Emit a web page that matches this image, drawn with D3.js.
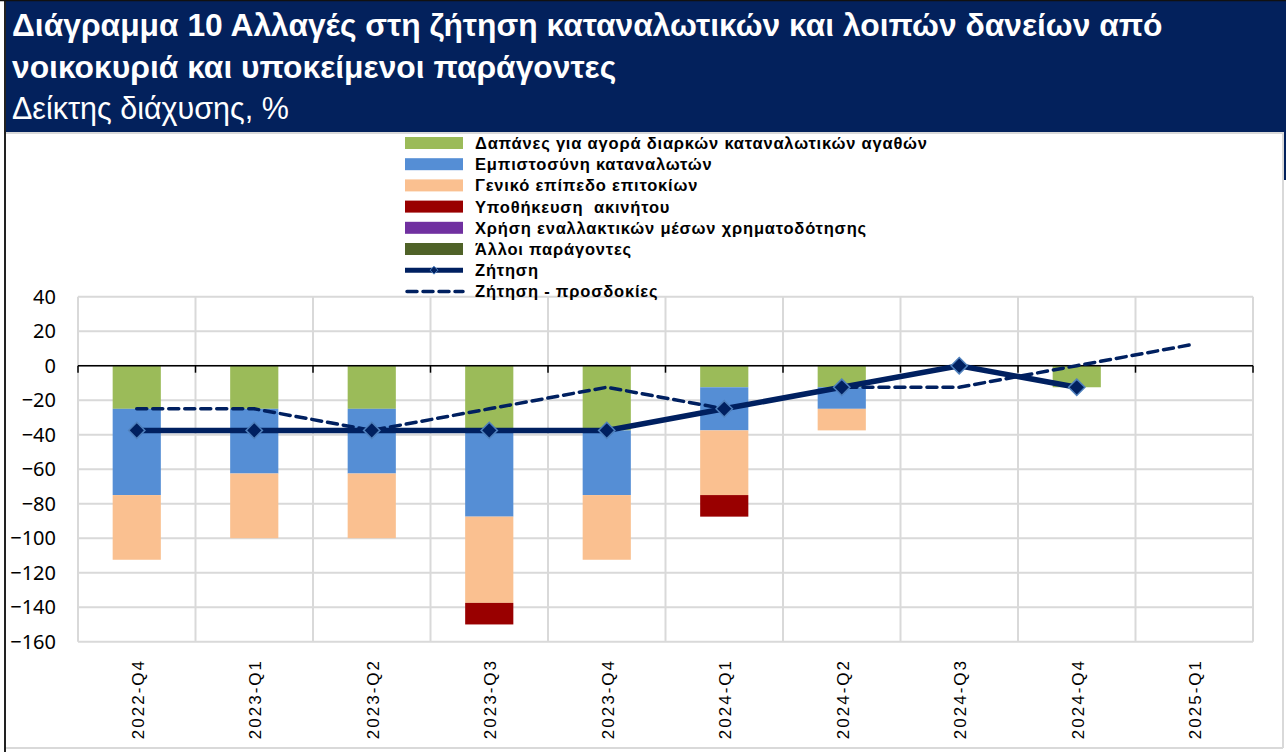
<!DOCTYPE html>
<html>
<head>
<meta charset="utf-8">
<script src="https://cdn.jsdelivr.net/npm/d3@7"></script>
<style>
  body { margin: 0; background: #fff; }
  svg text { font-family: "Liberation Sans", Arial, sans-serif; }
</style>
</head>
<body>
<div id="chart"></div>
<script>
var width = 1286;
var height = 752;

// data (diffusion index, %)
var categories = ["2022-Q4", "2023-Q1", "2023-Q2", "2023-Q3", "2023-Q4", "2024-Q1", "2024-Q2", "2024-Q3", "2024-Q4", "2025-Q1"];
var durables   = [-25, -25, -25, -37.5, -37.5, -12.5, -12.5, 0, -12.5, 0];
var confidence = [-50, -37.5, -37.5, -50, -37.5, -25, -12.5, 0, 0, 0];
var rates      = [-37.5, -37.5, -37.5, -50, -37.5, -37.5, -12.5, 0, 0, 0];
var collateral = [0, 0, 0, -12.5, 0, -12.5, 0, 0, 0, 0];
var altFinance = [0, 0, 0, 0, 0, 0, 0, 0, 0, 0];
var others     = [0, 0, 0, 0, 0, 0, 0, 0, 0, 0];
var demand       = [-37.5, -37.5, -37.5, -37.5, -37.5, -25, -12.5, 0, -12.5, null];
var expectations = [-25, -25, -37.5, -25, -12.5, -25, -12.5, -12.5, 0, 12.5];

var seriesNames = ["Δαπάνες για αγορά διαρκών καταναλωτικών αγαθών", "Εμπιστοσύνη καταναλωτών", "Γενικό επίπεδο επιτοκίων",
                   "Υποθήκευση  ακινήτου", "Χρήση εναλλακτικών μέσων χρηματοδότησης", "Άλλοι παράγοντες"];
var seriesValues = [durables, confidence, rates, collateral, altFinance, others];
var seriesColors = ["#9bbb59", "#558ed5", "#fac090", "#990000", "#7030a0", "#4f6228"];
var yTicks = d3.range(-160, 41, 20);

var navy = "#002060";

var svg = d3.select("#chart").append("svg")
  .attr("width", width)
  .attr("height", height);

// frame + title banner
svg.append("rect").attr("x", 6).attr("y", 0).attr("width", width - 6).attr("height", 132).attr("fill", "#03215c");
svg.append("rect").attr("x", 1283).attr("y", 132).attr("width", 3).attr("height", 48).attr("fill", "#03215c");
svg.append("line").attr("x1", 5).attr("x2", 5).attr("y1", 0).attr("y2", height).attr("stroke", "#222").attr("stroke-width", 2);
svg.append("line").attr("x1", 0).attr("x2", width).attr("y1", 0.5).attr("y2", 0.5).attr("stroke", "#111").attr("stroke-width", 1.5);
svg.append("line").attr("x1", 6).attr("x2", 1283).attr("y1", 133).attr("y2", 133).attr("stroke", "#d9d9d9").attr("stroke-width", 2);
svg.append("line").attr("x1", 1283).attr("x2", 1283).attr("y1", 132).attr("y2", 748).attr("stroke", "#d9d9d9").attr("stroke-width", 2);
svg.append("line").attr("x1", 6).attr("x2", 1283).attr("y1", 748).attr("y2", 748).attr("stroke", "#d9d9d9").attr("stroke-width", 2);

var title = svg.append("g").attr("fill", "#fff");
title.append("text").attr("x", 12).attr("y", 36).attr("font-size", 31.8).attr("font-weight", "bold")
  .text("Διάγραμμα 10 Αλλαγές στη ζήτηση καταναλωτικών και λοιπών δανείων από");
title.append("text").attr("x", 12).attr("y", 78).attr("font-size", 31.8).attr("font-weight", "bold")
  .text("νοικοκυριά και υποκείμενοι παράγοντες");
title.append("text").attr("x", 12).attr("y", 119).attr("font-size", 30.5)
  .text("Δείκτης διάχυσης, %");

// scales
var plotLeft = 78, plotRight = 1253;
var xCat = d3.scaleBand().domain(categories).range([plotLeft, plotRight]).padding(0);
var xBar = d3.scaleBand().domain(categories).range([plotLeft, plotRight]).paddingInner(0.59).paddingOuter(0.295);
var y = d3.scaleLinear().domain([-160, 40]).range([641.7, 296.7]);
var cx = function(c) { return xCat(c) + xCat.bandwidth() / 2; };

// gridlines
var grid = svg.append("g");
grid.selectAll(".hg").data(yTicks).enter().append("line")
  .attr("x1", plotLeft).attr("x2", plotRight)
  .attr("y1", function(d) { return y(d); }).attr("y2", function(d) { return y(d); })
  .attr("stroke", "#d9d9d9").attr("stroke-width", 2);
var bounds = categories.map(function(c) { return xCat(c); }).concat([plotRight]);
grid.selectAll(".vg").data(bounds).enter().append("line")
  .attr("x1", function(d) { return d; }).attr("x2", function(d) { return d; })
  .attr("y1", y(40)).attr("y2", y(-160))
  .attr("stroke", "#d9d9d9").attr("stroke-width", 2);

// y axis labels
var yAxis = d3.axisLeft(y).tickValues(yTicks).tickSize(0).tickPadding(0);
var yG = svg.append("g").attr("transform", "translate(56,0)").call(yAxis);
yG.select(".domain").remove();
yG.selectAll("text").attr("font-size", 20).attr("fill", "#000")
  .style("font-family", "'Noto Sans', sans-serif");

// stacked bars
var table = categories.map(function(c, i) {
  var row = { cat: c };
  seriesNames.forEach(function(n, k) { row[n] = seriesValues[k][i]; });
  return row;
});
var stack = d3.stack().keys(seriesNames).offset(d3.stackOffsetDiverging);
var layers = stack(table);

svg.append("g").selectAll("g").data(layers).enter().append("g")
  .attr("fill", function(d, i) { return seriesColors[i]; })
  .selectAll("rect").data(function(d) { return d; }).enter().append("rect")
  .attr("x", function(d) { return xBar(d.data.cat); })
  .attr("width", xBar.bandwidth())
  .attr("y", function(d) { return y(Math.max(d[0], d[1])); })
  .attr("height", function(d) { return Math.abs(y(d[0]) - y(d[1])); });

// zero axis with ticks
var zero = svg.append("g");
zero.append("line").attr("x1", plotLeft).attr("x2", plotRight).attr("y1", y(0)).attr("y2", y(0))
  .attr("stroke", "#000").attr("stroke-width", 1.5);
zero.selectAll(".tk").data(bounds).enter().append("line")
  .attr("x1", function(d) { return d; }).attr("x2", function(d) { return d; })
  .attr("y1", y(0)).attr("y2", y(0) + 7)
  .attr("stroke", "#000").attr("stroke-width", 1.5);

// category labels (rotated)
svg.append("g").selectAll("text").data(categories).enter().append("text")
  .attr("transform", function(d) { return "translate(" + (cx(d) + 7) + ",659) rotate(-90)"; })
  .attr("text-anchor", "end")
  .attr("font-size", 17)
  .attr("letter-spacing", 2)
  .attr("fill", "#000")
  .text(function(d) { return d; });

// lines
var lineGen = d3.line()
  .defined(function(d) { return d.v !== null; })
  .x(function(d) { return cx(d.c); })
  .y(function(d) { return y(d.v); });

var expData = categories.map(function(c, i) { return { c: c, v: expectations[i] }; });
var demData = categories.map(function(c, i) { return { c: c, v: demand[i] }; });

svg.append("path").datum(expData)
  .attr("d", lineGen)
  .attr("fill", "none").attr("stroke", navy).attr("stroke-width", 3.5)
  .attr("stroke-dasharray", "10,6").attr("stroke-linecap", "round");

svg.append("path").datum(demData)
  .attr("d", lineGen)
  .attr("fill", "none").attr("stroke", navy).attr("stroke-width", 5.5);

var diamond = d3.symbol().type(d3.symbolDiamond2).size(170);
svg.append("g").selectAll("path").data(demData.filter(function(d) { return d.v !== null; })).enter().append("path")
  .attr("d", diamond)
  .attr("transform", function(d) { return "translate(" + cx(d.c) + "," + y(d.v) + ")"; })
  .attr("fill", navy).attr("stroke", "#4f81bd").attr("stroke-width", 1.5);

// legend
var legend = svg.append("g").attr("transform", "translate(405,0)");
var rowY = function(i) { return 143 + i * 21.2; };
seriesNames.forEach(function(n, i) {
  legend.append("rect").attr("x", 0).attr("y", rowY(i) - 6).attr("width", 58).attr("height", 12)
    .attr("fill", seriesColors[i]);
});
legend.append("line").attr("x1", 0).attr("x2", 58).attr("y1", rowY(6)).attr("y2", rowY(6))
  .attr("stroke", navy).attr("stroke-width", 5);
legend.append("path").attr("d", d3.symbol().type(d3.symbolDiamond2).size(40))
  .attr("transform", "translate(29," + rowY(6) + ")")
  .attr("fill", navy).attr("stroke", "#4f81bd").attr("stroke-width", 1);
legend.append("line").attr("x1", 2).attr("x2", 58).attr("y1", rowY(7)).attr("y2", rowY(7))
  .attr("stroke", navy).attr("stroke-width", 3.5).attr("stroke-dasharray", "10,6").attr("stroke-linecap", "round");

var legendLabels = seriesNames.concat(["Ζήτηση", "Ζήτηση - προσδοκίες"]);
legend.selectAll(".lt").data(legendLabels).enter().append("text")
  .attr("x", 70).attr("y", function(d, i) { return rowY(i) + 6; })
  .attr("font-size", 16.5)
  .attr("font-weight", "bold")
  .attr("letter-spacing", 0.8)
  .style("white-space", "pre")
  .attr("fill", "#000")
  .text(function(d) { return d; });
</script>
</body>
</html>
